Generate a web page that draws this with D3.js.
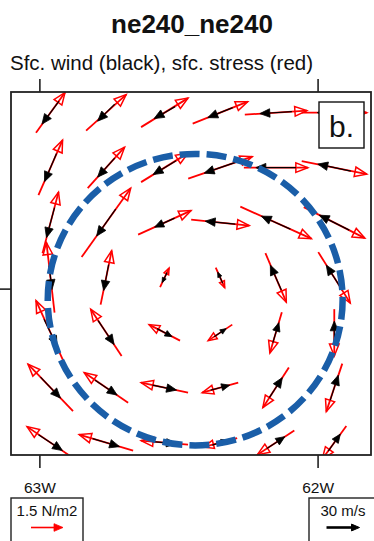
<!DOCTYPE html>
<html>
<head>
<meta charset="utf-8">
<script src="https://cdn.jsdelivr.net/npm/d3@7"></script>
<style>
  html, body { margin: 0; padding: 0; background: #fff; }
  svg { display: block; font-family: "Liberation Sans", Arial, Helvetica, sans-serif; }
</style>
</head>
<body>
<svg id="chart" width="374" height="541"></svg>
<script>
// Grid of the vector field (degrees)
const lons = [-62.96, -62.76, -62.55, -62.35, -62.15, -61.94];
const lats = [17.64, 17.44, 17.24, 17.04, 16.84, 16.64, 16.44];

// Surface wind (m/s), one row per latitude, north to south
const windU = [
  [-15.5, -15.5, -19.1, -22.7, -29.1, -30.9],
  [-10.9, -15.5, -20.9, -29.1, -36.4, -30.0],
  [ -7.3, -17.3, -18.2, -27.3, -26.4, -27.3],
  [  2.7,  -4.5,  -4.5,  -4.5, -10.0, -14.5],
  [ 11.8,  14.5,  13.6,  10.9,   5.5,   0.0],
  [ 18.2,  20.0,  21.8,  17.3,  11.8,   7.3],
  [ 21.8,  24.5,  20.9,  14.5,  16.4,  10.9]
];
const windV = [
  [-20.9, -15.5, -10.9,  -9.1,  -1.8,   0.0],
  [-25.5, -17.3, -12.7, -10.0,   0.0,   6.4],
  [-27.3, -24.5,  -8.2,   2.7,  11.8,  13.6],
  [-21.8, -23.6,  -9.1,  10.0,  22.7,  22.7],
  [-24.5, -21.8,  -7.3,   7.3,  18.2,  20.9],
  [-19.1, -13.6,  -4.5,   4.5,  18.2,  22.7],
  [-14.5,  -7.3,  -1.8,   4.5,  10.9,  15.5]
];

// Surface stress (N/m2)
const stressX = [
  [ 1.36,  1.88,  2.20,  2.58,  2.91,  3.05],
  [ 1.13,  1.73,  2.20,  3.00,  3.00,  3.05],
  [ 0.75,  2.30,  2.48,  2.72,  3.33,  2.86],
  [-0.38,  0.52,  0.42,  0.42,  0.98,  1.50],
  [-1.36, -1.45, -1.45, -1.13, -0.56,  0.00],
  [-2.11, -2.06, -2.20, -1.69, -1.22, -0.75],
  [-2.20, -2.53, -2.20, -1.59, -1.73, -1.13]
];
const stressY = [
  [ 1.88,  1.69,  1.36,  1.03,  0.19,  0.00],
  [ 2.58,  1.92,  1.36,  1.03,  0.00, -0.61],
  [ 2.86,  3.23,  1.13, -0.28, -1.50, -1.45],
  [ 3.28,  2.53,  0.89, -0.94, -2.30, -2.39],
  [ 3.00,  2.20,  0.75, -0.75, -1.92, -2.20],
  [ 2.20,  1.41,  0.47, -0.47, -1.88, -2.25],
  [ 1.50,  0.75,  0.19, -0.42, -1.13, -1.55]
];

// Axis ticks
const lonTicks = [-63, -62];
const lonTickLabels = ["63W", "62W"];
const latTicks = [17];

// Reference vectors
const refStress = 1.5;   // N/m2
const refWind = 30;      // m/s

// Storm circle (centre and radius in degrees)
const storm = { lon: -62.44, lat: 16.96, radius: 0.53 };

const panelLabel = "b.";
const titleText = "ne240_ne240";
const subtitleText = "Sfc. wind (black), sfc. stress (red)";

// ---------------------------------------------------------------
const svg = d3.select("#chart");
const frame = { x0: 11, x1: 371, y0: 92, y1: 455 };

const x = d3.scaleLinear().domain([-63.102, -61.808]).range([frame.x0, frame.x1]);
const y = d3.scaleLinear().domain([16.395, 17.715]).range([frame.y1, frame.y0]);

// pixel length per unit magnitude
const windLen = d3.scaleLinear().domain([0, refWind]).range([0, 33]);
const stressLen = d3.scaleLinear().domain([0, refStress]).range([0, 32]);

// Title and subtitle
svg.append("text")
  .attr("x", 192).attr("y", 33)
  .attr("text-anchor", "middle")
  .attr("font-size", 26).attr("font-weight", "bold")
  .attr("fill", "#111")
  .text(titleText);

svg.append("text")
  .attr("x", 10).attr("y", 70)
  .attr("font-size", 20.5)
  .attr("fill", "#111")
  .text(subtitleText);

// Clip for vectors
svg.append("defs").append("clipPath").attr("id", "plotClip")
  .append("rect")
  .attr("x", frame.x0).attr("y", frame.y0)
  .attr("width", frame.x1 - frame.x0).attr("height", frame.y1 - frame.y0);

const plot = svg.append("g").attr("clip-path", "url(#plotClip)");

// Build grid points
const points = [];
lats.forEach((lat, j) => {
  lons.forEach((lon, i) => {
    points.push({
      cx: x(lon), cy: y(lat),
      u: windU[j][i], v: windV[j][i],
      tx: stressX[j][i], ty: stressY[j][i]
    });
  });
});

// Geometry of an arrow centred on (cx, cy)
function arrow(cx, cy, ex, ny, lenScale, headMax, headRatio, widthRatio) {
  const mag = Math.hypot(ex, ny);
  const L = lenScale(mag);
  if (L < 0.5) return null;
  const ux = ex / mag, uy = -ny / mag;          // screen unit direction
  const tail = [cx - ux * L / 2, cy - uy * L / 2];
  const tip = [cx + ux * L / 2, cy + uy * L / 2];
  const hl = Math.max(5, Math.min(headMax, L * headRatio));
  const hw = hl * widthRatio;
  const base = [tip[0] - ux * hl, tip[1] - uy * hl];
  const px = -uy, py = ux;
  const left = [base[0] + px * hw / 2, base[1] + py * hw / 2];
  const right = [base[0] - px * hw / 2, base[1] - py * hw / 2];
  return { tail, tip, base, left, right };
}

function headPath(a) {
  return `M${a.left[0]},${a.left[1]}L${a.tip[0]},${a.tip[1]}L${a.right[0]},${a.right[1]}Z`;
}

// Stress vectors (red, open heads)
const stressG = plot.append("g");
points.forEach(p => {
  const a = arrow(p.cx, p.cy, p.tx, p.ty, stressLen, 12, 0.3, 0.8);
  if (!a) return;
  stressG.append("line")
    .attr("x1", a.tail[0]).attr("y1", a.tail[1])
    .attr("x2", a.tip[0]).attr("y2", a.tip[1])
    .attr("stroke", "#ff0000").attr("stroke-width", 1.8);
  stressG.append("path")
    .attr("d", headPath(a))
    .attr("fill", "none").attr("stroke", "#ff0000")
    .attr("stroke-width", 1.5).attr("stroke-linejoin", "miter");
});

// Wind vectors (black, filled heads)
const windG = plot.append("g");
points.forEach(p => {
  const a = arrow(p.cx, p.cy, p.u, p.v, windLen, 10, 0.42, 0.85);
  if (!a) return;
  windG.append("line")
    .attr("x1", a.tail[0]).attr("y1", a.tail[1])
    .attr("x2", a.base[0]).attr("y2", a.base[1])
    .attr("stroke", "#000").attr("stroke-width", 1.2);
  windG.append("path")
    .attr("d", headPath(a))
    .attr("fill", "#000").attr("stroke", "#000").attr("stroke-width", 0.8);
});

// Storm circle
const rx = x(storm.lon + storm.radius) - x(storm.lon);
const ry = y(storm.lat - storm.radius) - y(storm.lat);
plot.append("ellipse")
  .attr("cx", x(storm.lon)).attr("cy", y(storm.lat))
  .attr("rx", rx).attr("ry", ry)
  .attr("fill", "none")
  .attr("stroke", "#1a5ea8").attr("stroke-width", 6.5)
  .attr("stroke-dasharray", "20 7");

// Panel label
svg.append("rect")
  .attr("x", 319).attr("y", 102).attr("width", 45).attr("height", 46)
  .attr("fill", "#fff").attr("stroke", "#111").attr("stroke-width", 1.4);
svg.append("text")
  .attr("x", 341.5).attr("y", 137)
  .attr("text-anchor", "middle")
  .attr("font-size", 30).attr("fill", "#111")
  .text(panelLabel);

// Frame
svg.append("rect")
  .attr("x", frame.x0).attr("y", frame.y0)
  .attr("width", frame.x1 - frame.x0).attr("height", frame.y1 - frame.y0)
  .attr("fill", "none").attr("stroke", "#222").attr("stroke-width", 1.8);

// Axes
const axisStyle = g => {
  g.select(".domain").remove();
  g.selectAll(".tick line").attr("stroke", "#222").attr("stroke-width", 1.6);
  g.selectAll(".tick text").attr("fill", "#111")
    .attr("font-family", "\"Liberation Sans\", Arial, sans-serif");
};

svg.append("g")
  .attr("transform", `translate(0,${frame.y0})`)
  .call(d3.axisTop(x).tickValues(lonTicks).tickSize(13).tickFormat(""))
  .call(axisStyle);

svg.append("g")
  .attr("transform", `translate(0,${frame.y1})`)
  .call(d3.axisBottom(x).tickValues(lonTicks).tickSize(13).tickPadding(14)
    .tickFormat((d, i) => lonTickLabels[i]))
  .call(axisStyle)
  .call(g => g.selectAll(".tick text").attr("font-size", 15.5));

svg.append("g")
  .attr("transform", `translate(${frame.x0},0)`)
  .call(d3.axisLeft(y).tickValues(latTicks).tickSize(13).tickFormat(""))
  .call(axisStyle);

// Reference vector legends
function legend(bx, bw, label, ex, lenScale, isStress) {
  const g = svg.append("g");
  g.append("rect")
    .attr("x", bx).attr("y", 498).attr("width", bw).attr("height", 60)
    .attr("fill", "#fff").attr("stroke", "#222").attr("stroke-width", 1.4);
  g.append("text")
    .attr("x", bx + bw / 2).attr("y", 516)
    .attr("text-anchor", "middle").attr("font-size", 15).attr("fill", "#111")
    .text(label);
  const a = arrow(bx + bw / 2, 527.5, ex, 0, lenScale, isStress ? 9 : 8, 0.3, 0.85);
  if (isStress) {
    g.append("line")
      .attr("x1", a.tail[0]).attr("y1", a.tail[1]).attr("x2", a.base[0]).attr("y2", a.base[1])
      .attr("stroke", "#ff0000").attr("stroke-width", 1.6);
    g.append("path").attr("d", headPath(a)).attr("fill", "#ff0000").attr("stroke", "#ff0000").attr("stroke-width", 0.8);
  } else {
    g.append("line")
      .attr("x1", a.tail[0]).attr("y1", a.tail[1]).attr("x2", a.base[0]).attr("y2", a.base[1])
      .attr("stroke", "#000").attr("stroke-width", 2.6);
    g.append("path").attr("d", headPath(a)).attr("fill", "#000").attr("stroke", "#000").attr("stroke-width", 1);
  }
}
legend(11, 72, `${refStress} N/m2`, refStress, stressLen, true);
legend(309, 68, `${refWind} m/s`, refWind, windLen, false);
</script>
</body>
</html>
